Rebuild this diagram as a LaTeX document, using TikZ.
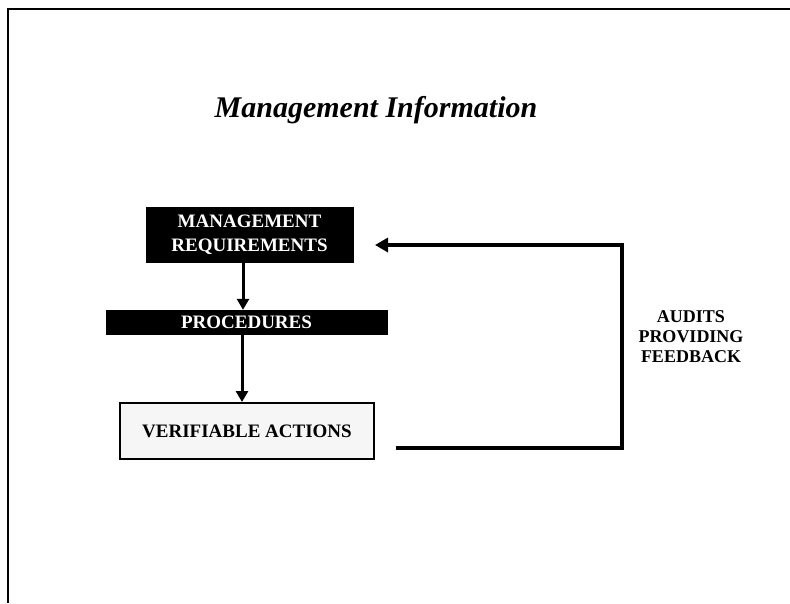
\documentclass[tikz,border=0pt]{standalone}
\usepackage{fontspec}
\setmainfont{Liberation Serif}
\usetikzlibrary{arrows.meta}
\begin{document}
\begin{tikzpicture}[x=1pt,y=-1pt,
  darkbox/.style={fill=black,draw=black,text=white,font=\fontsize{19}{24}\selectfont\bfseries,
    inner sep=0pt,align=center},
  lightbox/.style={fill=gray!7,draw=black,line width=2pt,text=black,
    font=\fontsize{19}{24}\selectfont\bfseries,inner sep=0pt,align=center},
  flow/.style={line width=3pt,-{Triangle[length=11pt,width=12pt]}},
  loop/.style={line width=4pt,-{Triangle[length=13pt,width=14pt]}},
  caption/.style={font=\fontsize{18}{20}\selectfont\bfseries,align=center,inner sep=0pt}]
  \useasboundingbox (0,0) rectangle (790,603);
  % page frame: top and left rules
  \draw[line width=2.5pt] (8,603) -- (8,9) -- (790,9);
  % title
  \node[font=\fontsize{30}{36}\selectfont\bfseries\itshape] (title) at (376,110) {Management Information};
  % chain of boxes
  \node[darkbox,minimum width=207pt,minimum height=55pt] (req) at (249.5,234.5) {MANAGEMENT\\REQUIREMENTS};
  \node[darkbox,minimum width=281pt,minimum height=24pt] (proc) at (246.5,322) {PROCEDURES};
  \node[lightbox,minimum width=254pt,minimum height=56pt] (act) at (247,431) {VERIFIABLE ACTIONS};
  \draw[flow] (req.south -| 243,0) -- (proc.north -| 243,0);
  \draw[flow] (proc.south -| 242,0) -- (act.north -| 242,0);
  % feedback loop
  \coordinate (fbstart) at (396,448);
  \coordinate (fbturn) at (622,448);
  \coordinate (fbtip) at (375,245);
  \draw[loop] (fbstart) -- (fbturn) |- (fbtip);
  \node[caption] (audits) at (691,337) {AUDITS\\PROVIDING\\FEEDBACK};
\end{tikzpicture}
\end{document}
